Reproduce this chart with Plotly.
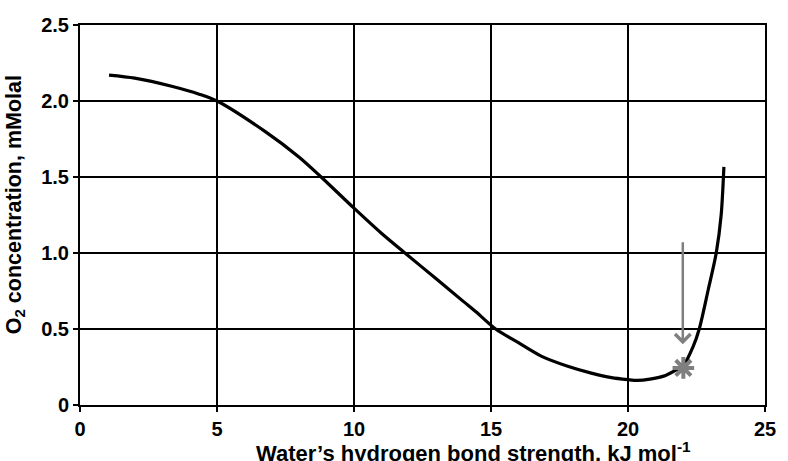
import plotly.graph_objects as go

# Data
hb_strength = [1.06, 2.0, 3.38, 4.35, 5.0, 6.75, 8.0, 8.8, 10.0, 11.0, 11.86, 13.0, 14.0,
               14.45, 15.17, 16.0, 16.85, 17.8, 18.66, 19.4, 20.0, 20.34, 20.8, 21.3, 21.7,
               22.02, 22.38, 22.6, 22.93, 23.22, 23.4, 23.5]
o2_conc = [2.17, 2.15, 2.095, 2.045, 2.0, 1.80, 1.63, 1.5, 1.295, 1.13, 1.0, 0.83, 0.68,
           0.613, 0.5, 0.41, 0.32, 0.255, 0.21, 0.18, 0.167, 0.162, 0.17, 0.19, 0.225,
           0.26, 0.385, 0.5, 0.76, 1.0, 1.25, 1.567]
star_x = [22.02]
star_y = [0.244]
arrow_x = 22.0
arrow_y_start = 1.08
arrow_y_end = 0.40

x_ticks = [0, 5, 10, 15, 20, 25]
y_ticks = [0, 0.5, 1.0, 1.5, 2.0, 2.5]
y_tick_labels = ["0", "0.5", "1.0", "1.5", "2.0", "2.5"]

FONT = "Liberation Sans, Arial, sans-serif"
TICK_SIZE = 20
X_TITLE_SIZE = 22
Y_TITLE_SIZE = 21.5

fig = go.Figure()
fig.add_trace(go.Scatter(
    x=hb_strength, y=o2_conc, mode="lines",
    line=dict(color="black", width=3.2, shape="spline", smoothing=0.8),
    showlegend=False, hoverinfo="skip"))
fig.add_trace(go.Scatter(
    x=star_x, y=star_y, mode="markers",
    marker=dict(symbol="asterisk-open", size=18, color="#7f7f7f",
                line=dict(color="#7f7f7f", width=4)),
    showlegend=False, hoverinfo="skip"))

fig.add_annotation(
    x=arrow_x, y=arrow_y_end, ax=arrow_x, ay=arrow_y_start,
    xref="x", yref="y", axref="x", ayref="y",
    showarrow=True, arrowhead=4, arrowsize=1.2, arrowwidth=2.5,
    arrowcolor="#7f7f7f", text="")

fig.add_annotation(
    text="Water\u2019s hydrogen bond strength, kJ mol<sup>-1</sup>",
    xref="paper", yref="paper", x=0.574, y=-0.123, xanchor="center", yanchor="middle",
    showarrow=False, font=dict(family=FONT, size=X_TITLE_SIZE, color="black", weight="bold"))
fig.add_annotation(
    text="O<sub>2</sub> concentration, mMolal",
    xref="paper", yref="paper", x=-0.095, y=0.528, xanchor="center", yanchor="middle",
    textangle=-90, showarrow=False,
    font=dict(family=FONT, size=Y_TITLE_SIZE, color="black", weight="bold"))

axis_common = dict(
    showgrid=True, gridcolor="black", gridwidth=2,
    showline=True, linecolor="black", linewidth=2, mirror=True,
    ticks="outside", ticklen=5, tickwidth=2, tickcolor="black",
    zeroline=False,
    tickfont=dict(family=FONT, size=TICK_SIZE, color="black", weight="bold"),
)

fig.update_xaxes(range=[0, 25], tickvals=x_ticks, ticktext=[str(v) for v in x_ticks],
                 **axis_common)
fig.update_yaxes(range=[0, 2.5], tickvals=y_ticks, ticktext=y_tick_labels, **axis_common)

fig.update_layout(
    width=788, height=461,
    margin=dict(l=79.5, r=15.5, t=25, b=55.5),
    paper_bgcolor="white", plot_bgcolor="white",
    font=dict(family=FONT, size=TICK_SIZE, color="black"),
)

# remove the default 8px page margin so the figure fills the window exactly
fig.write_html("out.html",
               config={"displayModeBar": False},
               post_script="document.body.style.margin='0';document.body.style.overflow='hidden';")
